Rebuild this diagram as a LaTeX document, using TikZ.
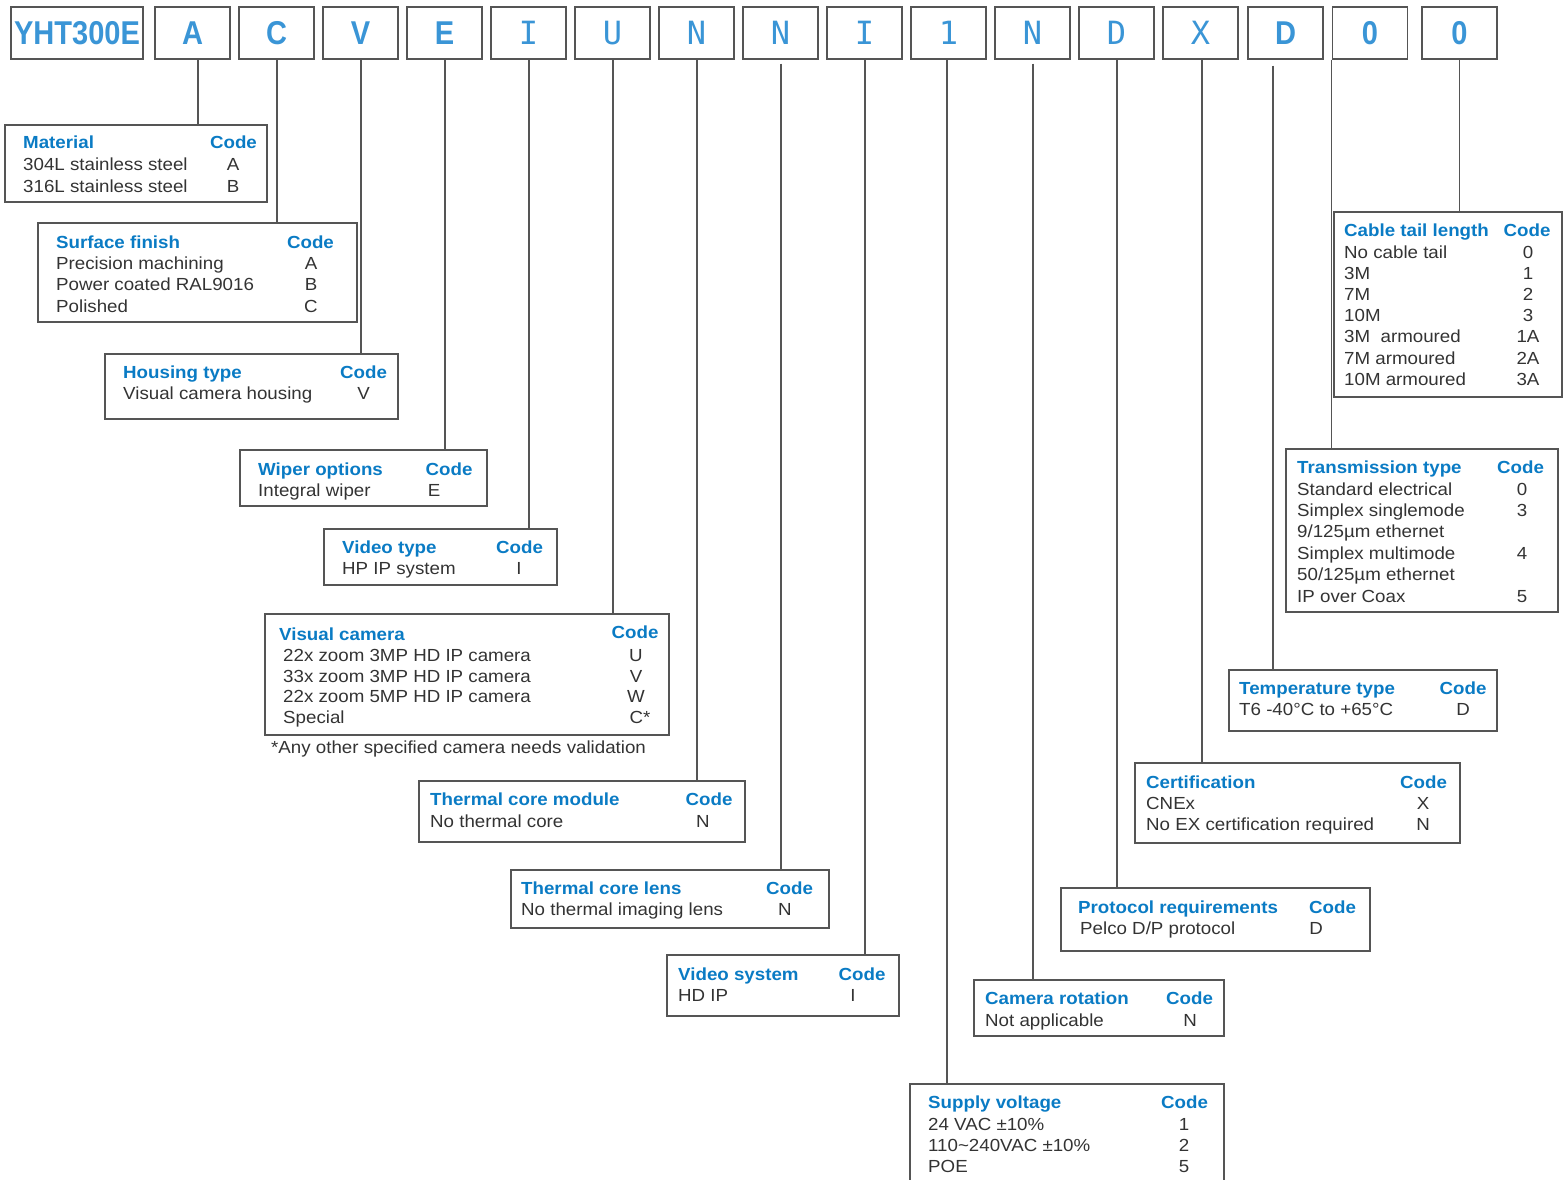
\documentclass[tikz,border=0pt]{standalone}
\usepackage{fontspec}
\setmainfont{Liberation Sans}[FakeStretch=1.07]
\newfontfamily\topsans{Liberation Sans}[FakeStretch=0.88]
\newfontfamily\topmono{DejaVu Sans Mono}
\usetikzlibrary{fit}
\definecolor{topblue}{HTML}{3A95D6}
\definecolor{hdblue}{HTML}{0A7BC4}
\definecolor{bodygray}{HTML}{333333}
\definecolor{framegray}{HTML}{555555}
\begin{document}
\begin{tikzpicture}[x=1pt,y=-1pt,
  font=\fontsize{17.5pt}{21pt}\selectfont,
  topbox/.style={draw=framegray,line width=1.3pt,minimum width=75pt,minimum height=52pt,inner sep=0pt,text=topblue},
  tsans/.style={topbox,font=\topsans\bfseries\fontsize{33pt}{36pt}\selectfont},
  tmono/.style={topbox,font=\topmono\fontsize{32pt}{36pt}\selectfont},
  frame/.style={draw=framegray,line width=1.3pt,inner sep=0pt},
  hd/.style={anchor=base west,inner sep=0pt,text=hdblue,font=\bfseries\fontsize{17.5pt}{21pt}\selectfont},
  hdc/.style={anchor=base,inner sep=0pt,text=hdblue,font=\bfseries\fontsize{17.5pt}{21pt}\selectfont},
  txt/.style={anchor=base west,inner sep=0pt,text=bodygray},
  cod/.style={anchor=base,inner sep=0pt,text=bodygray},
  conn/.style={draw=framegray,line width=1.2pt}]
\useasboundingbox (0,0) rectangle (1563,1180);
\clip (0,0) rectangle (1563,1180);

% ---------- top code boxes ----------
\node[tsans,minimum width=132pt] (t0) at (77,33) {YHT300E};
\node[tsans] (tA) at (192.5,33) {A};
\node[tsans] (tC) at (276.5,33) {C};
\node[tsans] (tV) at (360.5,33) {V};
\node[tsans] (tE) at (444.5,33) {E};
\node[tmono] (tIa) at (528.5,33) {I};
\node[tmono] (tU) at (612.5,33) {U};
\node[tmono] (tNa) at (696.5,33) {N};
\node[tmono] (tNb) at (780.5,33) {N};
\node[tmono] (tIb) at (864.5,33) {I};
\node[tmono] (tOne) at (948.5,33) {1};
\node[tmono] (tNc) at (1032.5,33) {N};
\node[tmono] (tDa) at (1116.5,33) {D};
\node[tmono] (tX) at (1200.5,33) {X};
\node[tsans] (tDb) at (1285.5,33) {D};
\node[tsans] (tZa) at (1370,33) {0};
\node[tsans] (tZb) at (1459.5,33) {0};

% ---------- Material ----------
\node[frame,fit={(5,125) (267,202)}] (bMat) {};
\node[hd] (bMat-h) at (23,149) {Material};
\node[hdc] (bMat-k) at (233.5,149) {Code};
\foreach \t/\c [count=\i from 0] in {{304L stainless steel}/A,{316L stainless steel}/B}{
  \node[txt] (bMat-t\i) at (23,{171+21.3*\i}) {\t};
  \node[cod] (bMat-c\i) at (233,{171+21.3*\i}) {\c};}

% ---------- Surface finish ----------
\node[frame,fit={(38,223) (357,322)}] (bSur) {};
\node[hd] (bSur-h) at (56,248) {Surface finish};
\node[hdc] (bSur-k) at (310.5,248) {Code};
\foreach \t/\c [count=\i from 0] in {{Precision machining}/A,{Power coated RAL9016}/B,{Polished}/C}{
  \node[txt] (bSur-t\i) at (56,{269.5+21.3*\i}) {\t};
  \node[cod] (bSur-c\i) at (311,{269.5+21.3*\i}) {\c};}

% ---------- Housing type ----------
\node[frame,fit={(105,354) (398,419)}] (bHou) {};
\node[hd] (bHou-h) at (123,378) {Housing type};
\node[hdc] (bHou-k) at (363.5,378) {Code};
\node[txt] (bHou-t) at (123,399.5) {Visual camera housing};
\node[cod] (bHou-c) at (363.5,399.5) {V};

% ---------- Wiper options ----------
\node[frame,fit={(240,450) (487,506)}] (bWip) {};
\node[hd] (bWip-h) at (258,475) {Wiper options};
\node[hdc] (bWip-k) at (449,475) {Code};
\node[txt] (bWip-t) at (258,496) {Integral wiper};
\node[cod] (bWip-c) at (434,496) {E};

% ---------- Video type ----------
\node[frame,fit={(324,529) (557,585)}] (bVid) {};
\node[hd] (bVid-h) at (342,553) {Video type};
\node[hdc] (bVid-k) at (519.5,553) {Code};
\node[txt] (bVid-t) at (342,574.5) {HP IP system};
\node[cod] (bVid-c) at (519,574.5) {I};

% ---------- Visual camera ----------
\node[frame,fit={(265,614) (669,735)}] (bVis) {};
\node[hd] (bVis-h) at (279,640) {Visual camera};
\node[hdc] (bVis-k) at (635,638.5) {Code};
\foreach \t/\c [count=\i from 0] in {{22x zoom 3MP HD IP camera}/U,{33x zoom 3MP HD IP camera}/V,{22x zoom 5MP HD IP camera}/W}{
  \node[txt] (bVis-t\i) at (283,{661.5+20.5*\i}) {\t};
  \node[cod] (bVis-c\i) at (636,{661.5+20.5*\i}) {\c};}
\node[txt] (bVis-t3) at (283,723) {Special};
\node[cod] (bVis-c3) at (640,723) {C*};
\node[txt] (bVis-note) at (271,753.5) {*Any other specified camera needs validation};

% ---------- Thermal core module ----------
\node[frame,fit={(419,781) (745,842)}] (bTcm) {};
\node[hd] (bTcm-h) at (430,805) {Thermal core module};
\node[hdc] (bTcm-k) at (709,805) {Code};
\node[txt] (bTcm-t) at (430,827) {No thermal core};
\node[cod] (bTcm-c) at (703,827) {N};

% ---------- Thermal core lens ----------
\node[frame,fit={(511,870) (829,928)}] (bTcl) {};
\node[hd] (bTcl-h) at (521,894) {Thermal core lens};
\node[hdc] (bTcl-k) at (789.5,894) {Code};
\node[txt] (bTcl-t) at (521,915) {No thermal imaging lens};
\node[cod] (bTcl-c) at (785,915) {N};

% ---------- Video system ----------
\node[frame,fit={(667,955) (899,1016)}] (bVs) {};
\node[hd] (bVs-h) at (678,980) {Video system};
\node[hdc] (bVs-k) at (862,980) {Code};
\node[txt] (bVs-t) at (678,1001) {HD IP};
\node[cod] (bVs-c) at (853,1001) {I};

% ---------- Supply voltage ----------
\node[frame,fit={(910,1084) (1224,1200)}] (bSup) {};
\node[hd] (bSup-h) at (928,1108) {Supply voltage};
\node[hdc] (bSup-k) at (1184.5,1108) {Code};
\foreach \t/\c [count=\i from 0] in {{24 VAC ±10\%}/1,{110\textasciitilde 240VAC ±10\%}/2,{POE}/5}{
  \node[txt] (bSup-t\i) at (928,{1130+21.2*\i}) {\t};
  \node[cod] (bSup-c\i) at (1184,{1130+21.2*\i}) {\c};}

% ---------- Camera rotation ----------
\node[frame,fit={(974,980) (1224,1036)}] (bRot) {};
\node[hd] (bRot-h) at (985,1004) {Camera rotation};
\node[hdc] (bRot-k) at (1189.5,1004) {Code};
\node[txt] (bRot-t) at (985,1026) {Not applicable};
\node[cod] (bRot-c) at (1190,1026) {N};

% ---------- Protocol requirements ----------
\node[frame,fit={(1061,888) (1370,951)}] (bPro) {};
\node[hd] (bPro-h) at (1078,913) {Protocol requirements};
\node[hdc] (bPro-k) at (1332.5,913) {Code};
\node[txt] (bPro-t) at (1080,934) {Pelco D/P protocol};
\node[cod] (bPro-c) at (1316,934) {D};

% ---------- Certification ----------
\node[frame,fit={(1135,763) (1460,843)}] (bCer) {};
\node[hd] (bCer-h) at (1146,788) {Certification};
\node[hdc] (bCer-k) at (1423.5,788) {Code};
\foreach \t/\c [count=\i from 0] in {{CNEx}/X,{No EX certification required}/N}{
  \node[txt] (bCer-t\i) at (1146,{809+21.5*\i}) {\t};
  \node[cod] (bCer-c\i) at (1423,{809+21.5*\i}) {\c};}

% ---------- Temperature type ----------
\node[frame,fit={(1229,670) (1497,731)}] (bTem) {};
\node[hd] (bTem-h) at (1239,694) {Temperature type};
\node[hdc] (bTem-k) at (1463,694) {Code};
\node[txt] (bTem-t) at (1239,715) {T6 -40°C to +65°C};
\node[cod] (bTem-c) at (1463,715) {D};

% ---------- Transmission type ----------
\node[frame,fit={(1286,449) (1558,612)}] (bTra) {};
\node[hd] (bTra-h) at (1297,473) {Transmission type};
\node[hdc] (bTra-k) at (1520.5,473) {Code};
\foreach \t/\c [count=\i from 0] in {{Standard electrical}/0,{Simplex singlemode}/3,{9/125µm ethernet}/{},{Simplex multimode}/4,{50/125µm ethernet}/{},{IP over Coax}/5}{
  \node[txt] (bTra-t\i) at (1297,{495+21.4*\i}) {\t};
  \node[cod] (bTra-c\i) at (1522,{495+21.4*\i}) {\c};}

% ---------- Cable tail length ----------
\node[frame,fit={(1334,212) (1562,397)}] (bCab) {};
\node[hd] (bCab-h) at (1344,236) {Cable tail length};
\node[hdc] (bCab-k) at (1527,236) {Code};
\foreach \t/\c [count=\i from 0] in {{No cable tail}/0,{3M}/1,{7M}/2,{10M}/3,{3M\ \ armoured}/1A,{7M armoured}/2A,{10M armoured}/3A}{
  \node[txt] (bCab-t\i) at (1344,{258+21.2*\i}) {\t};
  \node[cod] (bCab-c\i) at (1528,{258+21.2*\i}) {\c};}

% ---------- connectors ----------
\draw[conn] ([xshift=5.5pt]tA.south) -- ([xshift=5.5pt]tA.south |- bMat.north);
\draw[conn] ([xshift=0.5pt]tC.south) -- ([xshift=0.5pt]tC.south |- bSur.north);
\draw[conn] ([xshift=0.5pt]tV.south) -- ([xshift=0.5pt]tV.south |- bHou.north);
\draw[conn] ([xshift=0.5pt]tE.south) -- ([xshift=0.5pt]tE.south |- bWip.north);
\draw[conn] ([xshift=0.5pt]tIa.south) -- ([xshift=0.5pt]tIa.south |- bVid.north);
\draw[conn] ([xshift=0.5pt]tU.south) -- ([xshift=0.5pt]tU.south |- bVis.north);
\draw[conn] ([xshift=0.5pt]tNa.south) -- ([xshift=0.5pt]tNa.south |- bTcm.north);
\draw[conn] ([xshift=0.5pt,yshift=-4pt]tNb.south) -- ([xshift=0.5pt]tNb.south |- bTcl.north);
\draw[conn] ([xshift=0.5pt]tIb.south) -- ([xshift=0.5pt]tIb.south |- bVs.north);
\draw[conn] ([xshift=-1.5pt]tOne.south) -- ([xshift=-1.5pt]tOne.south |- bSup.north);
\draw[conn] ([xshift=0.5pt,yshift=-4pt]tNc.south) -- ([xshift=0.5pt]tNc.south |- bRot.north);
\draw[conn] ([xshift=0.5pt]tDa.south) -- ([xshift=0.5pt]tDa.south |- bPro.north);
\draw[conn] ([xshift=1.5pt]tX.south) -- ([xshift=1.5pt]tX.south |- bCer.north);
\draw[conn] ([xshift=-12.5pt,yshift=-6pt]tDb.south) -- ([xshift=-12.5pt]tDb.south |- bTem.north);
\draw[conn] (tZa.south west) -- (tZa.south west |- bTra.north);
\draw[conn] (tZb.south) -- (tZb.south |- bCab.north);
\end{tikzpicture}
\end{document}
